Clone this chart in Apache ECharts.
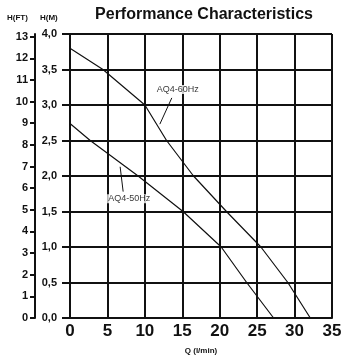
<!DOCTYPE html>
<html><head><meta charset="utf-8">
<script src="https://cdn.jsdelivr.net/npm/echarts@6/dist/echarts.min.js"></script>
<style>html,body{margin:0;padding:0;background:#fff}#c{width:346px;height:360px}</style>
</head><body><div id="c"></div>
<script>
const flow60 = [0, 4.4, 10, 12.9, 16.5, 20.9, 25.5, 29.1, 32.1];
const head60 = [3.8, 3.5, 3.0, 2.5, 2.0, 1.5, 1.0, 0.5, 0.0];
const flow50 = [0, 2.7, 9.1, 15.1, 20.2, 23.6, 27.2];
const head50 = [2.74, 2.5, 2.0, 1.5, 1.0, 0.5, 0.0];
const label60 = {text: 'AQ4-60Hz', at: [14.4, 3.22], leader: [[13.6, 3.10], [12.0, 2.73]]};
const label50 = {text: 'AQ4-50Hz', at: [7.9, 1.68], leader: [[7.1, 1.78], [6.7, 2.13]]};
const xTicks = {min: 0, max: 35, step: 5};
const mTicks = {min: 0, max: 4, step: 0.5};
const FT_PER_M = 1 / 0.3048;

const zip = (a, b) => a.map((v, i) => [v, b[i]]);
const F = 'Liberation Sans, Arial, sans-serif';
const chart = echarts.init(document.getElementById('c'), null, {renderer: 'canvas'});
const curve = (data) => ({type: 'line', data, symbol: 'none', smooth: false,
  lineStyle: {color: '#111', width: 1.2}, silent: true, z: 5});
chart.setOption({
  animation: false,
  title: {text: 'Performance Characteristics', left: 199, top: 2, textAlign: 'center',
    textStyle: {fontFamily: F, fontWeight: 'bold', fontSize: 16, color: '#111'}},
  graphic: [
    {type: 'text', left: 7, top: 14, style: {text: 'H(FT)', font: 'bold 8px ' + F, fill: '#111'}},
    {type: 'text', left: 40, top: 14, style: {text: 'H(M)', font: 'bold 8px ' + F, fill: '#111'}}
  ],
  grid: {left: 70, right: 14, top: 34, bottom: 40},
  xAxis: {type: 'value', min: xTicks.min, max: xTicks.max, interval: xTicks.step,
    name: 'Q (l/min)', nameLocation: 'middle', nameGap: 29,
    nameTextStyle: {fontFamily: F, fontWeight: 'bold', fontSize: 8, color: '#111'},
    axisLine: {lineStyle: {color: '#111', width: 2}},
    axisTick: {show: false},
    axisLabel: {fontFamily: F, fontWeight: 'bold', fontSize: 17, color: '#111', margin: 5},
    splitLine: {show: true, lineStyle: {color: '#111', width: 2}}},
  yAxis: [
    {type: 'value', min: mTicks.min, max: mTicks.max, interval: mTicks.step, position: 'left',
      axisLine: {show: true, lineStyle: {color: '#111', width: 2}},
      axisTick: {show: true, length: 8, lineStyle: {color: '#111', width: 2}},
      axisLabel: {fontFamily: F, fontWeight: 'bold', fontSize: 11, color: '#111', margin: 13,
        formatter: v => v.toFixed(1).replace('.', ',')},
      splitLine: {show: true, lineStyle: {color: '#111', width: 2}}},
    {type: 'value', min: 0, max: mTicks.max * FT_PER_M, interval: 1, position: 'left', offset: 35,
      axisLine: {show: true, lineStyle: {color: '#111', width: 2}},
      axisTick: {show: true, length: 5, lineStyle: {color: '#111', width: 2}},
      axisLabel: {fontFamily: F, fontWeight: 'bold', fontSize: 11, color: '#111', margin: 7,
        showMaxLabel: false},
      splitLine: {show: false}}
  ],
  series: [
    curve(zip(flow60, head60)),
    curve(zip(flow50, head50)),
    {type: 'line', data: label60.leader, symbol: 'none', lineStyle: {color: '#111', width: 1}, silent: true},
    {type: 'line', data: label50.leader, symbol: 'none', lineStyle: {color: '#111', width: 1}, silent: true},
    {type: 'scatter', symbolSize: 0, silent: true, z: 10,
      data: [{value: label60.at, name: label60.text}, {value: label50.at, name: label50.text}],
      label: {show: true, position: 'inside', formatter: p => p.name,
        fontFamily: F, fontSize: 9, color: '#000', backgroundColor: '#fff', padding: [0, 1]}}
  ]
});
</script></body></html>
